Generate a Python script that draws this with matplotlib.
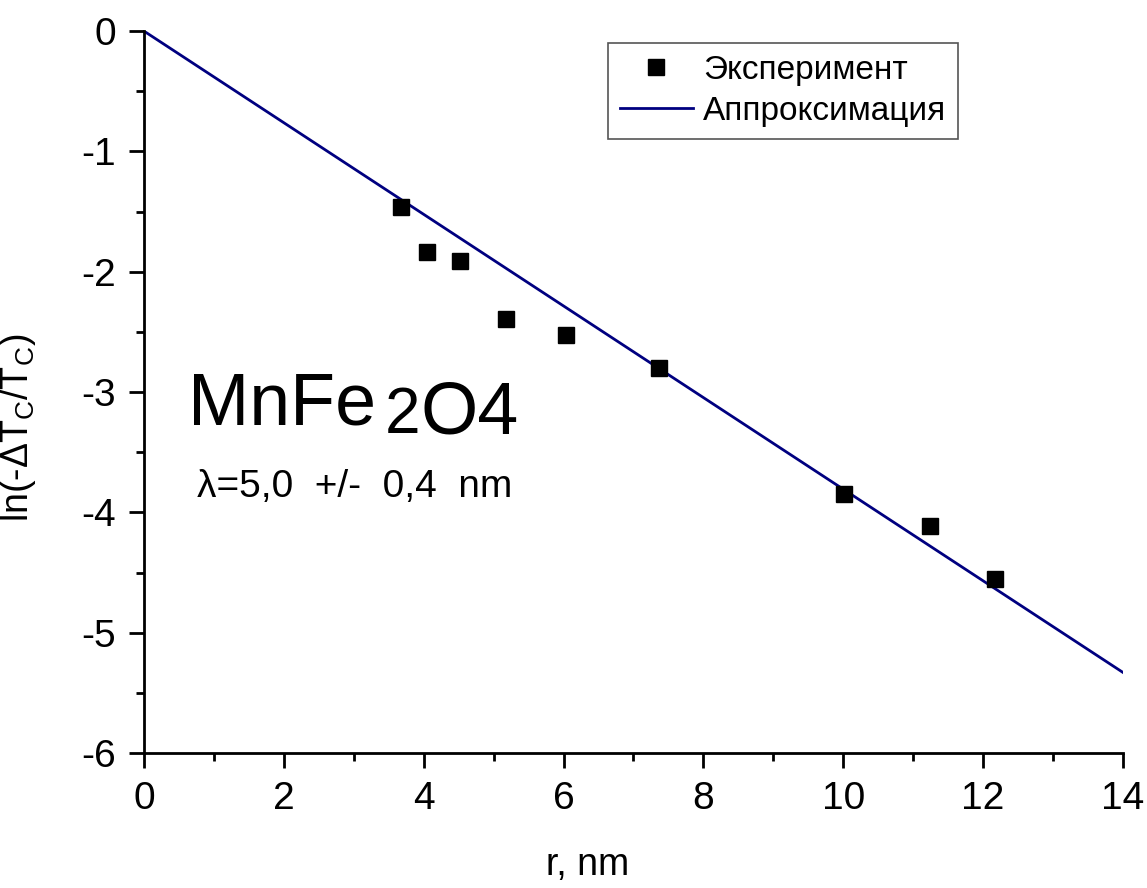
import numpy as np
import matplotlib
matplotlib.use("Agg")
import matplotlib.pyplot as plt
from matplotlib.ticker import MultipleLocator

plt.rcParams['font.family'] = ['Liberation Sans', 'DejaVu Sans']
plt.rcParams['mathtext.default'] = 'regular'
plt.rcParams['axes.unicode_minus'] = False

r_exp = [3.68, 4.05, 4.52, 5.18, 6.04, 7.37, 10.01, 11.24, 12.17]
ln_exp = [-1.46, -1.84, -1.91, -2.39, -2.53, -2.80, -3.85, -4.11, -4.55]

# fitted straight line
r_fit = [0.0, 14.0]
ln_fit = [0.0, -5.33]

fig = plt.figure(figsize=(11.47, 8.88), dpi=100)
ax = fig.add_axes([0.1255, 0.152, 0.8535, 0.813])

ax.plot(r_fit, ln_fit, color='#000080', lw=2.0, label='Аппроксимация', zorder=2)
ax.plot(r_exp, ln_exp, 's', color='black', ms=11.3, label='Эксперимент', zorder=3)

ax.set_xlim(0, 14)
ax.set_ylim(-6, 0)
ax.xaxis.set_major_locator(MultipleLocator(2))
ax.xaxis.set_minor_locator(MultipleLocator(1))
ax.yaxis.set_major_locator(MultipleLocator(1))
ax.yaxis.set_minor_locator(MultipleLocator(0.5))

for s in ['top', 'right']:
    ax.spines[s].set_visible(False)
for s in ['left', 'bottom']:
    ax.spines[s].set_linewidth(2)

ax.tick_params(which='major', direction='out', length=11, width=2, labelsize=28, pad=9)
ax.tick_params(which='minor', direction='out', length=6, width=2)

ax.set_xlabel('r, nm', fontsize=27)
ax.set_ylabel('ln(-ΔT$_C$/T$_C$)', fontsize=27)
ax.xaxis.set_label_coords(0.453, -0.13)
ax.yaxis.set_label_coords(-0.108, 0.45)

# annotation text
ax.text(0.63, -3.266, 'MnFe', fontsize=53, va='baseline')
ax.text(3.45, -3.341, '2', fontsize=46, va='baseline')
ax.text(3.95, -3.341, 'O4', fontsize=53, va='baseline')
ax.text(0.76, -3.873, 'λ=5,0  +/-  0,4  nm', fontsize=28, va='baseline')

h, l = ax.get_legend_handles_labels()
leg = ax.legend(h[::-1], l[::-1], loc='upper left', bbox_to_anchor=(0.474, 0.983),
                fontsize=24, fancybox=False, edgecolor='#555555', borderaxespad=0,
                handlelength=2.2, handletextpad=0.3, labelspacing=0.3,
                borderpad=0.35, framealpha=1)
leg.get_frame().set_linewidth(1.2)

fig.savefig('out.png', dpi=100)
